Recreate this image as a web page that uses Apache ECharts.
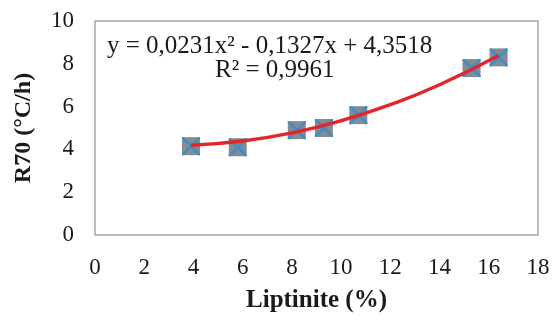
<!DOCTYPE html>
<html>
<head>
<meta charset="utf-8">
<script src="https://cdn.jsdelivr.net/npm/echarts@6/dist/echarts.min.js"></script>
<style>
  html, body { margin: 0; padding: 0; background: #fff; }
  #chart { width: 559px; height: 320px; }
</style>
</head>
<body>
<div id="chart"></div>
<script>
// measured points (Liptinite %, R70)
var liptinite = [3.9, 5.8, 8.2, 9.3, 10.7, 15.3, 16.4];
var r70 = [4.15, 4.1, 4.9, 5.0, 5.6, 7.8, 8.3];

// trend line
var trendX = [3.9, 6, 8, 10, 12, 14, 16.4];
var trendY = [4.19, 4.39, 4.77, 5.34, 6.09, 7.02, 8.39];

var xTicks = [0, 2, 4, 6, 8, 10, 12, 14, 16, 18];
var yTicks = [0, 2, 4, 6, 8, 10];

var equationText = 'y = 0,0231x² - 0,1327x + 4,3518';
var r2Text = 'R² = 0,9961';

var pts = liptinite.map(function (x, i) { return [x, r70[i]]; });
var trend = trendX.map(function (x, i) { return [x, trendY[i]]; });

var serif = '"Liberation Serif", "DejaVu Serif", serif';

var chart = echarts.init(document.getElementById('chart'));
chart.setOption({
  animation: false,
  grid: {
    left: 95, top: 21, right: 21, bottom: 85,
    show: true, borderColor: '#a6a6a6', borderWidth: 1.5
  },
  xAxis: {
    type: 'value', min: 0, max: 18, interval: 2,
    name: 'Liptinite (%)', nameLocation: 'middle', nameGap: 53,
    nameTextStyle: { fontFamily: serif, fontWeight: 'bold', fontSize: 25, color: '#1a1a1a' },
    axisLine: { show: false }, axisTick: { show: false }, splitLine: { show: false },
    axisLabel: { margin: 21, fontFamily: serif, fontSize: 23, color: '#1a1a1a',
      formatter: function (v) { return xTicks.indexOf(v) >= 0 ? String(v) : ''; } }
  },
  yAxis: {
    type: 'value', min: 0, max: 10, interval: 2,
    name: 'R70 (°C/h)', nameLocation: 'middle', nameGap: 59, nameRotate: 90,
    nameTextStyle: { fontFamily: serif, fontWeight: 'bold', fontSize: 24, color: '#1a1a1a' },
    axisLine: { show: false }, axisTick: { show: false }, splitLine: { show: false },
    axisLabel: { margin: 21, fontFamily: serif, fontSize: 23, color: '#1a1a1a',
      formatter: function (v) { return yTicks.indexOf(v) >= 0 ? String(v) : ''; } }
  },
  graphic: [
    { type: 'text', left: 107, top: 34,
      style: { text: equationText, font: '25px ' + serif, fill: '#1a1a1a' } },
    { type: 'text', left: 215, top: 58,
      style: { text: r2Text, font: '25px ' + serif, fill: '#1a1a1a' } }
  ],
  series: [
    {
      type: 'scatter', data: pts, symbol: 'rect', symbolSize: 18,
      itemStyle: { color: '#858b92', opacity: 1 }, z: 2
    },
    {
      type: 'scatter', data: pts, symbolSize: 18,
      symbol: 'path://M0,0 L2,0 L10,8 L18,0 L20,0 L20,2 L12,10 L20,18 L20,20 L18,20 L10,12 L2,20 L0,20 L0,18 L8,10 L0,2 Z',
      itemStyle: { color: '#3b8fc9', opacity: 1 }, z: 3
    },
    {
      type: 'line', data: trend, smooth: true, symbol: 'none',
      lineStyle: { color: '#e3262b', width: 3.5 }, z: 4
    }
  ]
});
</script>
</body>
</html>
